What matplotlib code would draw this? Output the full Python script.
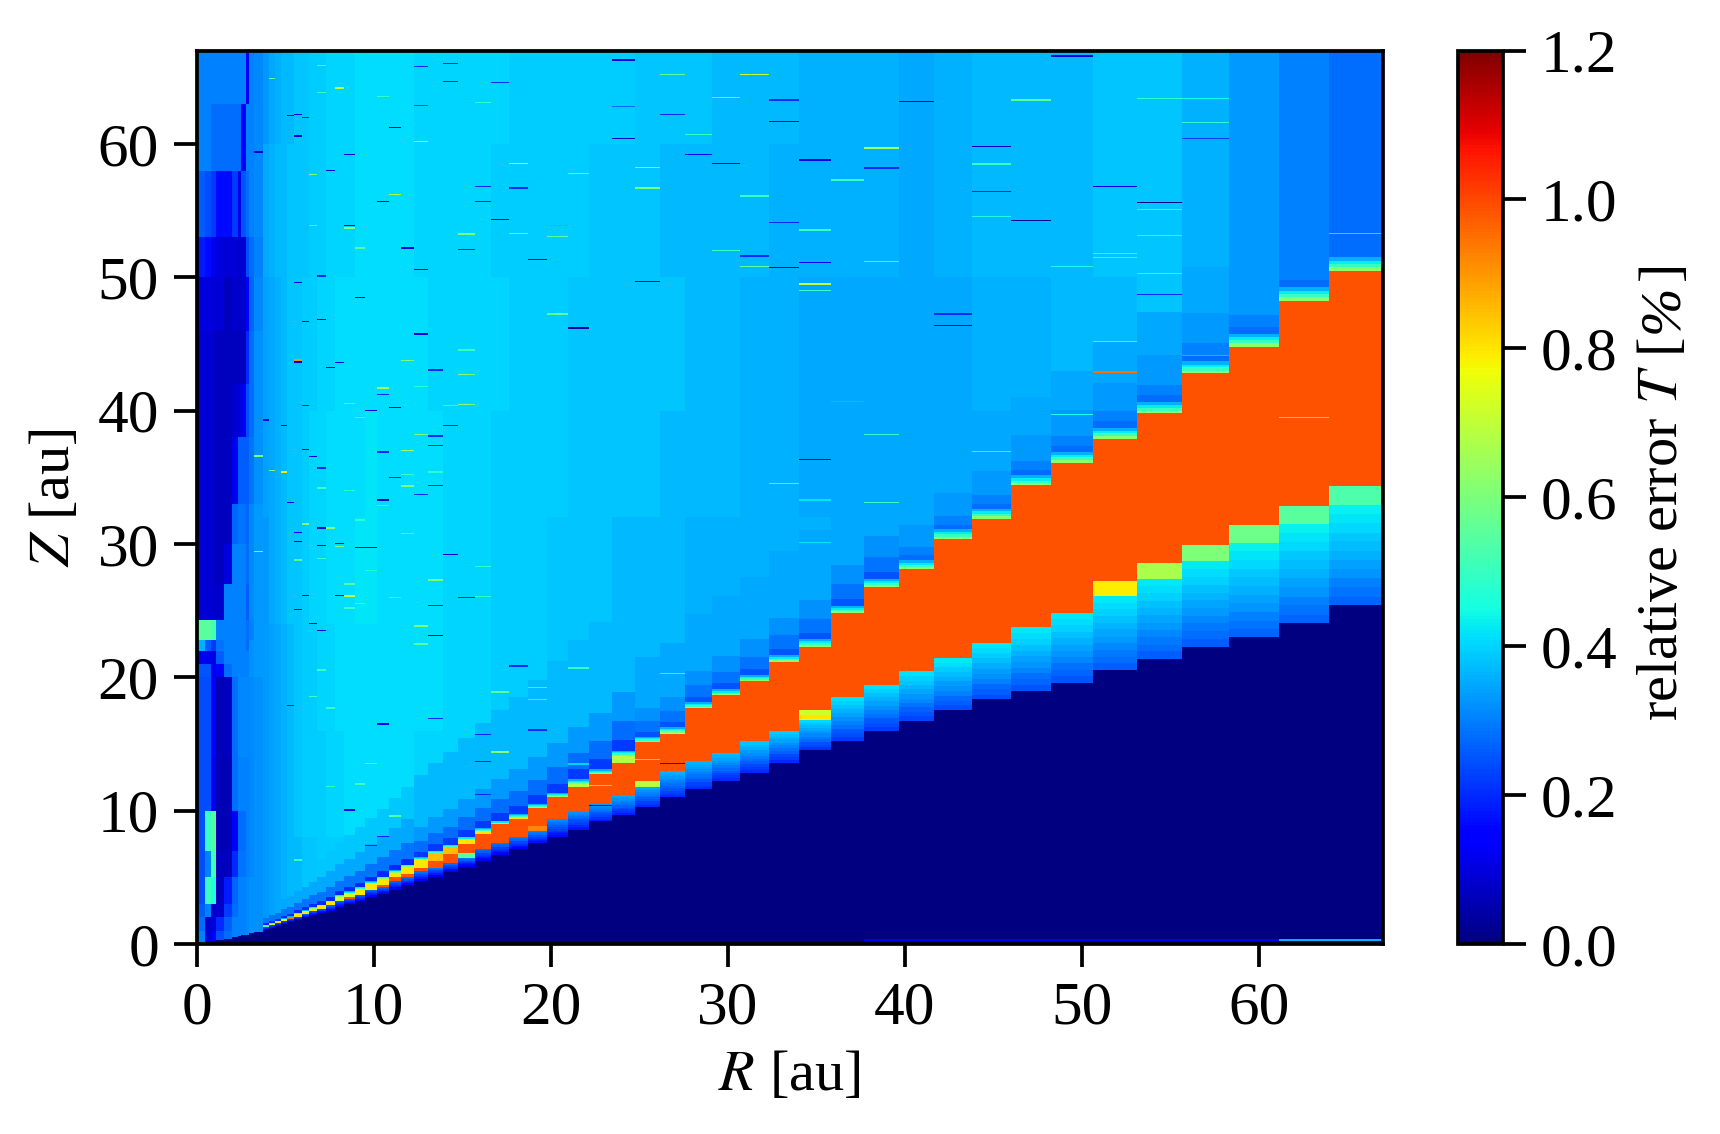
import numpy as np
import matplotlib
matplotlib.use("Agg")
import matplotlib.pyplot as plt

plt.rcParams['font.family'] = ['Liberation Serif', 'DejaVu Serif']
plt.rcParams['mathtext.fontset'] = 'stix'

# ---------- radial cells (au) ----------
R_INNER = [0.10, 0.50, 0.80, 1.10, 1.58, 1.98, 2.37, 2.54, 2.77, 2.99, 3.27]
R_OUTER = [3.78, 4.12, 4.44, 4.78, 5.12, 5.53, 5.93, 6.38, 6.83, 7.34, 7.84, 8.35, 8.97, 9.54,
           10.21, 10.89, 11.57, 12.30, 13.09, 13.94, 14.79, 15.74, 16.65, 17.66, 18.74, 19.81,
           20.99, 22.18, 23.48, 24.77, 26.18, 27.60, 29.12, 30.70, 32.34, 34.03, 35.84, 37.70,
           39.67, 41.65, 43.79, 45.99, 48.25, 50.62, 53.10, 55.64, 58.30, 61.12, 63.94, 67.0]

# ---------- boundaries per outer column (au) ----------
Z_DARK = [1.05, 1.2, 1.35, 1.5, 1.65, 1.8, 1.98, 2.13, 2.3, 2.5, 2.73, 2.98, 3.18, 3.5, 3.75, 4.05,
          4.38, 4.73, 5.03, 5.38, 5.8, 6.18, 6.63, 7.08, 7.53, 8.03, 8.55, 9.18, 9.68, 10.3, 10.98,
          11.58, 12.25, 12.85, 13.6, 14.55, 15.2, 16.0, 16.75, 17.55, 18.33, 19.0, 19.6, 20.55,
          21.38, 22.3, 22.98, 24.03, 25.38]
Z_PATCH = [1.28, 1.43, 1.6, 1.75, 1.9, 2.05, 2.25, 2.5, 2.65, 2.88, 3.25, 3.4, 3.68, 4.05, 4.25, 4.75,
           5.0, 5.43, 5.72, 6.1, 6.45, 7.13, 7.58, 8.03, 8.48, 9.38, 9.98, 10.5, 11.13, 11.8, 12.93,
           13.68, 14.33, 15.18, 15.98, 16.8, 18.48, 19.43, 20.43, 21.47, 22.6, 23.73, 24.85, 26.1,
           27.38, 28.68, 30.07, 31.5, 32.93]
Z_ORANGE = [1.28, 1.43, 1.6, 1.75, 1.9, 2.05, 2.25, 2.5, 2.65, 2.88, 3.25, 3.4, 3.68, 4.05, 4.25, 4.75,
            5.0, 5.43, 5.72, 6.1, 6.8, 7.13, 7.58, 8.03, 8.85, 9.38, 9.98, 10.5, 11.13, 12.22, 12.93,
            13.68, 14.33, 15.18, 15.98, 17.55, 18.48, 19.43, 20.43, 21.47, 22.6, 23.73, 24.85, 27.22,
            28.6, 29.93, 31.38, 32.85, 34.35]
Z_YELLOW = [1.28, 1.43, 1.6, 1.75, 1.9, 2.05, 2.25, 2.5, 2.65, 2.88, 3.25, 3.5, 3.68, 4.05, 4.43, 5.0,
            5.25, 5.72, 6.25, 6.75, 7.5, 8.25, 8.98, 9.35, 10.18, 11.0, 11.78, 12.73, 13.6, 15.15,
            15.75, 17.68, 18.63, 19.68, 21.15, 22.3, 24.78, 26.73, 28.13, 30.4, 31.9, 34.38, 36.1,
            37.88, 39.78, 42.78, 44.8, 48.25, 50.48]
Z_TOP = [1.35, 1.5, 1.68, 1.85, 2.0, 2.25, 2.43, 2.65, 2.85, 3.15, 3.55, 3.8, 4.13, 4.53, 4.9, 5.35,
         5.78, 6.28, 6.8, 7.23, 7.8, 8.43, 8.98, 9.45, 10.18, 11.0, 12.0, 12.73, 14.1, 15.15,
         15.85, 17.68, 18.63, 19.68, 21.15, 22.3, 24.78, 26.73, 28.13, 30.4, 31.9, 34.38, 36.1,
         37.88, 39.78, 42.78, 44.8, 48.25, 50.48]
YELLOW_V = [0.55, 0.70, 0.80, 0.80, 0.95, 0.80, 0.80, 0.80, 0.80, 0.80, 0.72, 0.72, 0.80, 0.80, 0.80,
            0.80, 0.80, 0.80, 0.85, 0.85, 0.80, 0.80, 0.80, 0.80, 0.80, 0.80, 0.68, 0.80, 0.68, 0.80,
            0.72, 0.8, 0.8, 0.8, 0.8, 0.8, 0.8, 0.8, 0.8, 0.8, 0.8, 0.8, 0.8, 0.8, 0.8, 0.8, 0.8, 0.8, 0.8]
PATCH_V = [0.5] * 20 + [0.55, 0.5, 0.5, 0.5, 0.92, 0.5, 0.5, 0.5, 0.5, 0.68, 0.5, 0.5, 0.5, 0.5, 0.5,
                        0.72, 0.5, 0.5, 0.5, 0.5, 0.5, 0.5, 0.5, 0.79, 0.67, 0.60, 0.58, 0.55, 0.53]
BAND_LOW = [0.12] * 14 + [0.12, 0.12, 0.12, 0.13, 0.13, 0.13, 0.13, 0.13, 0.13, 0.14, 0.15, 0.16, 0.17,
                          0.18, 0.19, 0.20, 0.20, 0.20, 0.20, 0.20, 0.20, 0.21, 0.22, 0.22, 0.23,
                          0.24, 0.24, 0.25, 0.25, 0.26, 0.26, 0.26, 0.27, 0.27, 0.27]
BAND_HIGH = [0.28] * 14 + [0.29, 0.29, 0.30, 0.30, 0.30, 0.30, 0.30, 0.30, 0.30, 0.31, 0.32, 0.33, 0.34,
                           0.35, 0.36, 0.36, 0.37, 0.38, 0.39, 0.40, 0.41, 0.42, 0.43, 0.43, 0.43,
                           0.44, 0.44, 0.44, 0.44, 0.44, 0.44, 0.44, 0.45, 0.45, 0.45]
BAND_FRAC = [0.0, 0.10, 0.18, 0.30, 0.40, 0.48, 0.58, 0.66, 0.76, 0.84, 0.92, 1.0]
ORANGE_V = 0.985
# values just above the orange, heights as a share of R
FRINGE_H = [0.004, 0.008, 0.012, 0.016]
FRINGE_V = [0.62, 0.50, 0.43, 0.36]
# darker stretch above the fringe, read at four radii: R below, heights (share of R), values
DIP_R = [12, 25, 40, 99]
DIP_H = [[0.05, 0.15, 0.30, 0.50], [0.05, 0.11, 0.20, 0.50], [0.03, 0.06, 0.10, 0.25], [0.025, 0.04, 0.08, 0.14]]
DIP_V = [[0.20, 0.29, 0.35, 0.385], [0.22, 0.28, 0.33, 0.37], [0.25, 0.29, 0.32, 0.35], [0.28, 0.30, 0.33, 0.35]]

# ---------- background, outer columns, one row per column, in 0.01 % ----------
BG_Z = [0, 8, 16, 24, 32, 40, 50, 60, 67]
BG = [
    [33, 33, 33, 33, 34, 34, 35, 33], [34, 34, 34, 35, 35, 35, 36, 35], [35, 35, 35, 36, 36, 36, 37, 36],
    [36, 36, 36, 37, 37, 37, 37, 37], [37, 37, 37, 38, 38, 38, 38, 37], [37, 38, 38, 38, 38, 38, 38, 38],
    [38, 39, 39, 39, 39, 39, 38, 38], [38, 39, 39, 40, 40, 39, 39, 39], [39, 39, 40, 40, 40, 40, 39, 39],
    [39, 40, 40, 41, 41, 40, 40, 40], [39, 40, 41, 41, 41, 41, 40, 40], [39, 41, 41, 41, 41, 41, 40, 40],
    [39, 41, 41, 42, 41, 41, 41, 41], [39, 41, 41, 42, 42, 41, 41, 41], [40, 41, 41, 41, 41, 41, 41, 41],
    [40, 41, 41, 41, 41, 41, 41, 41], [40, 41, 41, 41, 41, 41, 41, 41], [40, 40, 41, 41, 41, 41, 40, 40],
    [40, 40, 41, 41, 41, 40, 40, 40], [40, 40, 40, 40, 40, 40, 40, 40], [40, 40, 40, 40, 40, 40, 40, 40],
    [39, 39, 40, 40, 40, 40, 40, 40], [39, 39, 39, 39, 39, 40, 39, 40], [39, 39, 39, 39, 39, 39, 39, 39],
    [39, 39, 39, 39, 39, 39, 39, 39], [38, 38, 38, 38, 39, 39, 39, 39], [38, 38, 38, 38, 38, 38, 39, 39],
    [38, 38, 38, 38, 38, 38, 38, 39], [37, 37, 37, 37, 38, 38, 38, 39], [37, 37, 37, 37, 38, 38, 38, 38],
    [37, 37, 37, 37, 37, 38, 37, 38], [36, 36, 36, 36, 37, 37, 37, 38], [36, 36, 36, 36, 37, 37, 37, 37],
    [36, 36, 36, 36, 36, 36, 37, 37], [36, 36, 36, 36, 36, 36, 36, 37], [36, 36, 36, 36, 35, 35, 36, 36],
    [36, 36, 36, 35, 35, 35, 36, 36], [36, 36, 36, 35, 35, 35, 36, 36], [36, 36, 36, 35, 35, 35, 35, 35],
    [36, 36, 36, 35, 35, 35, 36, 36], [36, 36, 36, 35, 35, 36, 37, 37], [36, 36, 36, 35, 36, 36, 37, 37],
    [36, 36, 36, 36, 36, 37, 37, 37], [37, 37, 37, 37, 37, 37, 38, 38], [37, 37, 37, 37, 37, 38, 38, 38],
    [35, 35, 35, 35, 35, 35, 36, 36], [33, 33, 33, 33, 33, 33, 33, 33], [30, 30, 30, 30, 30, 30, 30, 30],
    [28, 28, 28, 28, 28, 28, 28, 28],
]

# ---------- background, inner columns, one row per height band, in 0.01 % ----------
IN_Z = [0, 1, 2, 3, 5, 7, 10, 14, 20, 21, 22, 22.8, 24.3, 27, 30, 33, 38, 42, 46, 50, 53, 58, 63, 67]
IN_BG = [
    [30, 10, 14, 24, 28, 30, 30, 30, 31, 32, 32],
    [28, 8, 10, 20, 26, 30, 30, 30, 31, 32, 32],
    [26, 30, 8, 8, 22, 28, 30, 30, 31, 32, 32],
    [24, 50, 46, 7, 18, 27, 30, 30, 31, 32, 32],
    [24, 30, 52, 7, 7, 20, 29, 29, 30, 31, 32],
    [24, 50, 54, 6, 6, 14, 28, 28, 30, 31, 32],
    [24, 24, 12, 6, 6, 28, 30, 30, 30, 31, 32],
    [24, 24, 14, 6, 7, 28, 31, 31, 31, 31, 32],
    [25, 25, 12, 15, 28, 30, 30, 30, 30, 32, 33],
    [12, 12, 10, 26, 30, 30, 30, 30, 30, 32, 33],
    [36, 26, 22, 29, 30, 30, 30, 30, 28, 32, 33],
    [55, 55, 52, 30, 30, 30, 30, 30, 28, 30, 33],
    [9, 9, 8, 8, 30, 30, 30, 30, 26, 31, 33],
    [9, 9, 8, 7, 10, 30, 30, 30, 28, 31, 33],
    [9, 9, 8, 7, 7, 27, 29, 29, 27, 31, 33],
    [9, 9, 8, 7, 7, 12, 26, 26, 26, 29, 32],
    [9, 9, 8, 7, 7, 8, 10, 12, 24, 28, 32],
    [9, 9, 8, 7, 7, 7, 7, 7, 20, 28, 32],
    [10, 10, 9, 9, 7, 8, 8, 8, 14, 27, 31],
    [18, 16, 12, 10, 9, 9, 8, 9, 24, 28, 30],
    [26, 24, 22, 16, 16, 22, 12, 25, 28, 30, 31],
    [30, 30, 28, 28, 28, 28, 28, 14, 30, 30, 31],
    [30, 30, 30, 30, 30, 30, 30, 30, 13, 30, 31],
]
IN_DARK = [0.03, 0.1, 0.18, 0.3, 0.4, 0.5, 0.58, 0.64, 0.7, 0.78, 0.88]

# ---------- single thin rows: R, Z, value ----------
STREAKS = [
    (4.3, 64.9, .55), (7.1, 65.9, .5), (7.1, 63.85, .5), (8.1, 64.2, .7), (5.5, 62.15, .1), (5.8, 62.2, .1),
    (6.2, 62.0, .2), (11.2, 61.25, .1), (12.7, 60.2, .7), (5.7, 60.6, .1), (8.7, 59.2, .1), (3.4, 59.4, .1),
    (7.6, 58.0, .1), (6.6, 57.7, .6), (11.2, 56.2, .68), (10.6, 55.7, .1), (16.2, 56.8, .2), (16.2, 55.7, .2),
    (8.7, 53.9, .1), (8.7, 53.7, .6), (6.6, 53.9, .5), (11.9, 52.2, .1), (9.3, 52.2, .55), (15.3, 53.25, .6),
    (15.3, 52.1, .2), (12.7, 50.6, .15), (7.1, 50.1, .2), (6.2, 46.7, .1), (7.1, 46.85, .1), (12.7, 45.75, .1),
    (9.3, 48.5, .1), (5.7, 49.6, .1), (10.5, 63.55, .5), (12.7, 65.8, .2), (12.7, 62.9, .25), (14.3, 64.7, .2),
    (15.8, 63.1, .5), (14.3, 66.05, .2),
    (5.7, 43.8, .9), (5.7, 43.65, .1), (8.1, 43.6, .1), (7.6, 43.25, .1), (11.9, 43.75, .6), (10.5, 41.7, .65),
    (10.5, 41.2, .2), (13.5, 43.05, .2), (11.2, 40.25, .12), (9.8, 40.0, .15), (6.2, 40.4, .2), (3.95, 39.3, .15),
    (5.0, 38.9, .1), (6.2, 37.1, .1), (6.6, 36.55, .1), (13.5, 38.1, .2), (13.5, 37.4, .2), (14.3, 38.9, .2),
    (12.7, 38.2, .6), (11.9, 37.0, .65), (10.5, 36.9, .2), (3.6, 36.6, .6), (5.0, 35.4, .8), (4.3, 35.5, .6),
    (7.1, 35.7, .2), (10.5, 33.3, .08), (5.3, 33.1, .1), (11.9, 34.35, .6), (13.5, 34.4, .2), (12.7, 33.7, .2),
    (11.2, 35.0, .2), (6.2, 31.5, .6), (5.7, 30.85, .15), (5.7, 30.2, .1), (7.1, 31.2, .1), (7.6, 31.2, .6),
    (3.5, 29.45, .58), (7.1, 29.9, .15), (8.1, 30.05, .15), (8.1, 29.8, .6), (9.3, 29.75, .15), (9.9, 29.75, .15),
    (14.3, 29.2, .1), (5.7, 28.8, .55), (13.5, 27.3, .6), (8.7, 27.0, .55), (8.7, 26.1, .7), (8.1, 26.15, .15),
    (6.2, 26.15, .15), (5.7, 25.1, .15), (6.6, 24.05, .15), (7.1, 23.5, .1), (13.5, 25.4, .2), (13.5, 23.15, .1),
    (12.7, 23.85, .6), (15.3, 26.0, .2), (15.3, 42.7, .6), (15.3, 40.45, .6),
    (12.7, 22.5, .55), (13.5, 16.9, .2), (10.5, 16.5, .15), (8.7, 10.05, .15), (11.2, 9.6, .55), (10.5, 8.05, .2),
    (9.9, 7.4, .2), (16.2, 15.7, .2), (16.2, 13.7, .2), (16.2, 11.2, .2), (5.3, 17.9, .2),
    (24.1, 66.3, .1), (24.1, 60.4, .08), (24.1, 62.8, .27), (21.6, 46.2, .05), (20.4, 53.9, .95), (20.4, 53.05, .55),
    (20.4, 47.25, .55), (18.2, 58.55, .7), (18.2, 56.7, .2), (18.2, 53.3, .55), (17.2, 64.6, .2), (17.2, 54.35, .15),
    (19.3, 51.35, .15), (21.6, 57.8, .55), (25.5, 58.25, .6), (25.5, 56.7, .6), (25.5, 49.7, .15), (28.1, 59.2, .15),
    (26.9, 65.2, .55), (26.9, 62.2, .2), (28.1, 60.7, .5), (29.9, 63.5, .55), (29.9, 58.55, .15), (29.9, 52.0, .5),
    (31.5, 65.2, .7), (31.5, 56.1, .5), (31.5, 51.6, .2), (31.5, 50.8, .55), (33.2, 61.7, .15), (33.2, 63.3, .2),
    (33.2, 50.75, .1), (33.2, 54.1, .2), (34.9, 58.8, .1), (34.9, 49.5, .7), (34.9, 49.0, .5), (34.9, 51.1, .15),
    (34.9, 53.55, .5), (36.8, 57.3, .5), (38.7, 59.7, .65), (38.7, 51.2, .5), (38.7, 58.2, .2), (40.5, 63.2, .1),
    (42.6, 47.25, .2), (42.6, 46.4, .15), (44.9, 59.8, .08), (44.9, 58.5, .5), (44.9, 56.45, .2), (44.9, 54.55, .45),
    (47.1, 63.3, .55), (47.1, 54.25, .03), (49.4, 66.6, .1), (49.4, 50.8, .45), (51.9, 56.8, .1), (51.9, 51.8, .48),
    (51.9, 51.5, .48), (54.4, 55.6, .02), (54.4, 63.4, .48), (54.4, 53.15, .45), (54.4, 55.1, .45), (56.9, 61.6, .48),
    (56.9, 63.4, .45), (56.9, 60.4, .22), (65.4, 53.3, .42),
    (34.9, 36.35, .12), (33.5, 34.55, .5), (34.9, 33.3, .42), (34.9, 30.1, .42), (36.7, 40.7, .95), (38.7, 38.2, .48),
    (38.7, 33.1, .5), (44.9, 36.95, .45), (49.0, 39.7, .45), (51.9, 45.2, .48), (51.9, 42.9, .95), (54.4, 50.3, .45),
    (54.4, 48.7, .2), (57.0, 44.15, .95), (62.5, 39.5, .85),
    (17.2, 18.9, .55), (17.2, 14.4, .6), (18.2, 20.85, .2), (19.3, 19.25, .48), (19.3, 18.35, .45), (19.3, 16.05, .2),
    (21.6, 20.7, .5), (21.6, 13.5, .4), (26.9, 20.3, .45), (22.8, 11.9, .85), (25.5, 13.85, .85), (26.9, 13.55, .15),
    (22.8, 10.4, .15), (34.9, 16.95, .8), (34.9, 17.1, .8),
    (15.3, 44.55, .5), (8.7, 40.55, .5), (9.3, 39.5, .5), (12.7, 41.8, .48), (13.5, 35.4, .48), (14.3, 40.4, .48),
    (8.7, 34.0, .48), (7.1, 34.2, .5), (11.9, 35.2, .5), (10.5, 32.9, .48), (9.3, 31.8, .48), (11.9, 30.8, .5),
    (7.1, 28.9, .5), (9.8, 28.0, .48), (8.7, 25.2, .5), (9.3, 25.55, .5), (11.3, 26.0, .48), (16.2, 28.3, .5),
    (16.2, 26.05, .5), (7.4, 17.7, .5), (6.6, 18.55, .52), (7.1, 20.55, .5), (9.8, 13.55, .52), (9.3, 12.0, .52),
    (7.5, 11.8, .5), (5.7, 6.3, .5),
]
# faint strip along the midplane: R from, R to, Z, value
MIDPLANE = [(37.7, 61.12, 0.28, 0.12), (61.12, 67.0, 0.28, 0.36)]

# ---------- assemble the cell values ----------
R_edges = np.array(R_INNER + R_OUTER)
Z_edges = np.arange(0, 67.01, 0.05)
R_mid = 0.5 * (R_edges[:-1] + R_edges[1:])
C = np.zeros((len(Z_edges) - 1, len(R_edges) - 1))
Z_mid = 0.5 * (Z_edges[:-1] + Z_edges[1:])
n_in = len(R_INNER)


def rows(z0, z1):
    return (Z_mid >= z0) & (Z_mid < z1)


for j in range(n_in):
    for k in range(len(IN_BG)):
        C[rows(IN_Z[k], IN_Z[k + 1]), j] = IN_BG[k][j] / 100
    C[rows(0, IN_DARK[j]), j] = 0.0

for i in range(len(R_OUTER) - 1):
    j = n_in + i
    r = R_mid[j]
    for k in range(len(BG_Z) - 1):
        C[rows(BG_Z[k], BG_Z[k + 1]), j] = BG[i][k] / 100
    C[rows(0, Z_TOP[i]), j] = 0.0
    # band under the orange
    height = Z_PATCH[i] - Z_DARK[i]
    for m in range(len(BAND_FRAC) - 1):
        lo = Z_DARK[i] + height * m / (len(BAND_FRAC) - 1)
        hi = Z_DARK[i] + height * (m + 1) / (len(BAND_FRAC) - 1)
        C[rows(lo, hi), j] = BAND_LOW[i] + (BAND_HIGH[i] - BAND_LOW[i]) * BAND_FRAC[m]
    C[rows(Z_PATCH[i], Z_ORANGE[i]), j] = PATCH_V[i]
    C[rows(Z_ORANGE[i], Z_YELLOW[i]), j] = ORANGE_V
    C[rows(Z_YELLOW[i], Z_TOP[i]), j] = YELLOW_V[i]
    # darker stretch above the top, then the thin bright fringe
    b = np.searchsorted(DIP_R, r)
    prev = 0.0
    for h, v in zip(DIP_H[b], DIP_V[b]):
        sel = rows(Z_TOP[i] + prev * r, Z_TOP[i] + h * r)
        C[sel, j] = np.minimum(C[sel, j], v)
        prev = h
    prev = 0.0
    for h, v in zip(FRINGE_H, FRINGE_V):
        C[rows(Z_TOP[i] + prev * r, Z_TOP[i] + h * r), j] = v
        prev = h

for r, z, v in STREAKS:
    j = np.searchsorted(R_edges, r) - 1
    C[rows(z - 0.05, z + 0.05), j] = v

for r0, r1, z, v in MIDPLANE:
    cols = (R_mid > r0) & (R_mid < r1)
    C[np.ix_(rows(z - 0.06, z + 0.06), cols)] = v

# ---------- figure ----------
W, H, DPI = 1720, 1134, 300
plt.rcParams['axes.linewidth'] = 0.9
fig = plt.figure(figsize=(W / DPI, H / DPI), dpi=DPI)
ax = fig.add_axes([196.5 / W, 1 - 944 / H, (1383 - 196.5) / W, (944 - 50.5) / H])
mesh = ax.pcolormesh(R_edges, Z_edges, C, cmap='jet', vmin=0, vmax=1.2, shading='flat', rasterized=True)
ax.set_xlim(0, 67)
ax.set_ylim(0, 67)
ax.set_xticks([0, 10, 20, 30, 40, 50, 60])
ax.set_yticks([0, 10, 20, 30, 40, 50, 60])
ax.tick_params(labelsize=14.7, length=5.5, width=0.9, pad=3.5)
ax.set_xlabel(r'$R$ [au]', fontsize=14, labelpad=3)
ax.set_ylabel(r'$Z$ [au]', fontsize=14, labelpad=4)

cax = fig.add_axes([1457.5 / W, 1 - 944 / H, (1503 - 1457.5) / W, (944 - 50.5) / H])
cb = fig.colorbar(mesh, cax=cax)
cb.set_ticks([0, 0.2, 0.4, 0.6, 0.8, 1.0, 1.2])
cb.ax.tick_params(labelsize=14.7, length=5.5, width=0.9, pad=3.5)

# colour-bar label in three pieces, since the percent sign is slanted in the reference
base_x = 1677 / W
y_px = 721.0
renderer = fig.canvas.get_renderer()
for txt, style, gap in [(r'relative error $T$ [', 'normal', 4), ('%', 'italic', 4), (']', 'normal', 0)]:
    t = fig.text(base_x, 1 - y_px / H, txt, style=style, fontsize=14, rotation=90,
                 rotation_mode='anchor', ha='left', va='baseline')
    y_px = H - t.get_window_extent(renderer).y1 - gap

fig.savefig('out.png', dpi=DPI)
